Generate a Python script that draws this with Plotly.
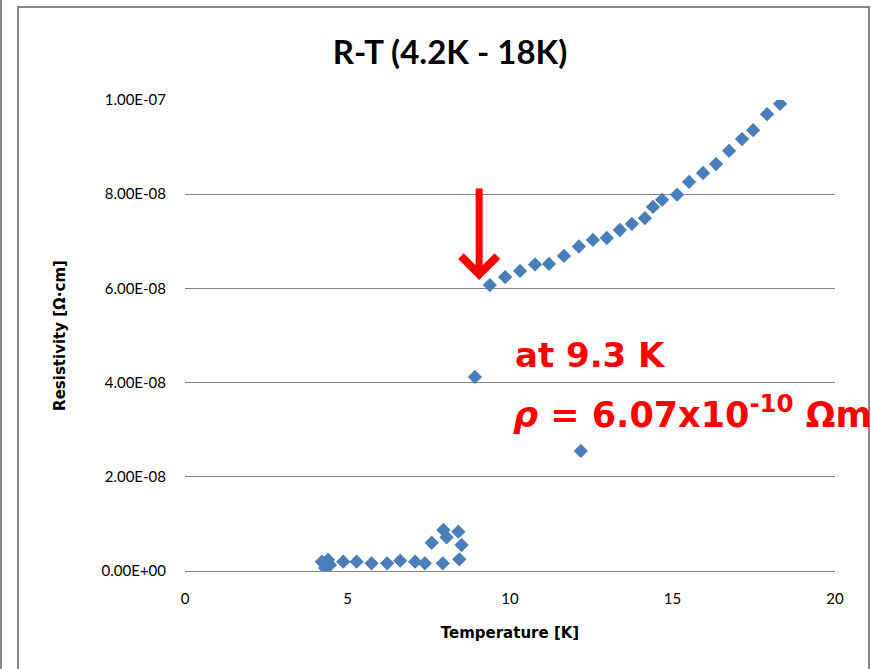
import plotly.graph_objects as go

# ---- data ----
temperature_K = [
    4.21, 4.31, 4.40, 4.46, 4.87, 5.28, 5.74, 6.22, 6.62, 7.08, 7.38,
    7.59, 7.95, 8.05, 7.93, 8.41, 8.51, 8.44,
    8.92, 12.18,
    9.38, 9.85, 10.31, 10.77, 11.20, 11.66, 12.12, 12.55, 12.98, 13.38,
    13.75, 14.15, 14.40, 14.68, 15.14, 15.51, 15.94, 16.34, 16.74, 17.14,
    17.48, 17.91, 18.31,
]
resistivity = [
    1.97e-9, 0.64e-9, 2.4e-9, 1.27e-9, 1.97e-9, 1.97e-9, 1.63e-9, 1.63e-9, 2.19e-9, 1.97e-9, 1.63e-9,
    6.0e-9, 8.7e-9, 7.15e-9, 1.63e-9, 8.34e-9, 5.52e-9, 2.48e-9,
    4.12e-8, 2.55e-8,
    6.07e-8, 6.24e-8, 6.37e-8, 6.51e-8, 6.52e-8, 6.69e-8, 6.89e-8, 7.03e-8, 7.07e-8, 7.24e-8,
    7.37e-8, 7.49e-8, 7.73e-8, 7.88e-8, 7.99e-8, 8.26e-8, 8.45e-8, 8.64e-8, 8.92e-8, 9.17e-8,
    9.36e-8, 9.70e-8, 9.92e-8,
]
x_ticks = [0, 5, 10, 15, 20]
y_ticks = [0, 2e-8, 4e-8, 6e-8, 8e-8, 1e-7]
y_tick_labels = ["0.00E+00", "2.00E-08", "4.00E-08", "6.00E-08", "8.00E-08", "1.00E-07"]
title_text = "R-T (4.2K - 18K)"
x_title = "Temperature [K]"
y_title = "Resistivity [Ω·cm]"
tc_T = 9.05          # where the arrow points (K)
tc_rho = 6.18e-8     # arrow tip height

BLUE = "#4A7EBB"
RED = "#FF0000"
GRID = "#868686"
TICKFONT = dict(family="Lato, Carlito, sans-serif", size=15, color="#000000")
TITLEFONT = dict(family="DejaVu Sans", size=15, color="#000000")

fig = go.Figure()
fig.add_trace(go.Scatter(
    x=temperature_K, y=resistivity, mode="markers",
    marker=dict(symbol="diamond", size=11, color=BLUE, line=dict(width=0)),
    showlegend=False, hoverinfo="x+y",
))

W, H = 871, 669
L, R, T, B = 185, 36, 100, 98
pw, ph = W - L - R, H - T - B


def px(xp):
    return (xp - L) / pw


def py(yp):
    return (H - B - yp) / ph


shapes = [
    dict(type="line", xref="paper", yref="paper", x0=px(1), x1=px(1), y0=py(-10), y1=py(700),
         line=dict(color=GRID, width=2)),
    dict(type="path", xref="paper", yref="paper",
         path=f"M {px(18)} {py(700)} L {px(18)} {py(7)} L {px(869)} {py(7)} L {px(869)} {py(700)}",
         line=dict(color=GRID, width=2)),
]

annotations = [
    dict(x=tc_T, y=tc_rho, xref="x", yref="y", ax=0, ay=-93, text="", showarrow=True,
         arrowhead=4, arrowsize=1.0, arrowwidth=7, arrowcolor=RED, standoff=0),
    dict(x=px(513), y=py(355), xref="paper", yref="paper", xanchor="left", yanchor="middle",
         text="<b>at 9.3 K</b>", showarrow=False,
         font=dict(family="DejaVu Sans", size=34, color=RED)),
    dict(x=px(511), y=py(412), xref="paper", yref="paper", xanchor="left", yanchor="middle",
         text="<b><i>ρ</i> = 6.07x10<sup>-10</sup> Ωm</b>", showarrow=False,
         font=dict(family="DejaVu Sans", size=35, color=RED)),
]

fig.update_layout(
    width=W, height=H,
    margin=dict(l=L, r=R, t=T, b=B, autoexpand=False),
    paper_bgcolor="white", plot_bgcolor="white",
    title=dict(text=f"<b>{title_text}</b>", x=450 / W, xanchor="center", y=1 - 52 / H, yanchor="middle",
               font=dict(family="Lato, Carlito, sans-serif", size=33, color="#000000")),
    xaxis=dict(range=[0, 20], tickvals=x_ticks, ticktext=[str(v) for v in x_ticks],
               showgrid=False, zeroline=False, showline=True, linecolor=GRID, linewidth=1,
               ticks="", tickfont=TICKFONT, ticklabelstandoff=14,
               title=dict(text=f"<b>{x_title}</b>", standoff=21, font=TITLEFONT)),
    yaxis=dict(range=[0, 1e-7], tickvals=y_ticks, ticktext=y_tick_labels,
               showgrid=True, gridcolor=GRID, gridwidth=1, zeroline=False, showline=False,
               ticks="", tickfont=TICKFONT, ticklabelstandoff=18,
               title=dict(text=f"<b>{y_title}</b>", standoff=32, font=TITLEFONT)),
    shapes=shapes, annotations=annotations,
)

fig.write_html("out.html", config={"displayModeBar": False},
               post_script="document.body.style.margin='0';")
